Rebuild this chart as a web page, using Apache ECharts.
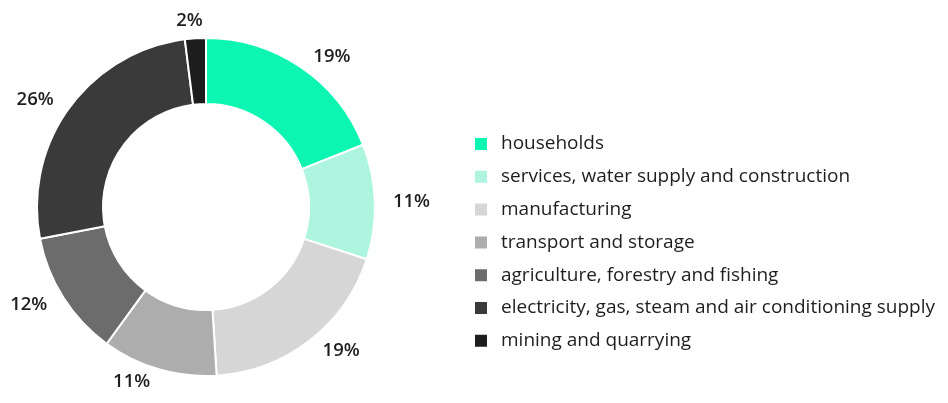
<!DOCTYPE html>
<html>
<head>
<meta charset="utf-8">
<script src="https://cdn.jsdelivr.net/npm/echarts@6/dist/echarts.min.js"></script>
<style>
  html, body { margin: 0; padding: 0; background: #fff; }
  #chart { width: 948px; height: 403px; }
</style>
</head>
<body>
<div id="chart"></div>
<script>
// Shares of final energy consumption by sector (%)
const sectors = [
  'households',
  'services, water supply and construction',
  'manufacturing',
  'transport and storage',
  'agriculture, forestry and fishing',
  'electricity, gas, steam and air conditioning supply',
  'mining and quarrying'
];
const shares = [19, 11, 19, 11, 12, 26, 2];
const sectorColors = ['#0cf5b3', '#aef5df', '#d6d6d6', '#adadad', '#6c6c6c', '#3a3a3a', '#1d1d1d'];

const chart = echarts.init(document.getElementById('chart'));

const data = sectors.map((name, i) => ({
  name: name,
  value: shares[i],
  itemStyle: { color: sectorColors[i] }
}));

chart.setOption({
  animation: false,
  legend: {
    orient: 'vertical',
    left: 468,
    top: 129,
    icon: 'rect',
    itemWidth: 14,
    itemHeight: 14,
    itemGap: 12.8,
    selectedMode: false,
    textStyle: {
      fontFamily: 'Open Sans',
      fontSize: 19,
      color: '#1e1e1e',
      lineHeight: 20,
      padding: [0, 0, 0, 8]
    },
    data: sectors
  },
  series: [{
    type: 'pie',
    center: [206, 207],
    radius: [103, 169],
    startAngle: 90,
    clockwise: true,
    avoidLabelOverlap: false,
    itemStyle: { borderColor: '#fff', borderWidth: 2 },
    label: {
      show: true,
      position: 'outside',
      formatter: '{c}%',
      fontFamily: 'Open Sans',
      fontWeight: 600,
      fontSize: 18.5,
      color: '#1e1e1e'
    },
    labelLine: { show: false, length: 13, length2: 0 },
    // the thin slice near the top gets its label centred over it
    labelLayout: function (params) {
      if (shares[params.dataIndex] < 5) {
        return { align: 'center', dy: -5 };
      }
    },
    emphasis: { disabled: true },
    data: data
  }]
});
</script>
</body>
</html>
